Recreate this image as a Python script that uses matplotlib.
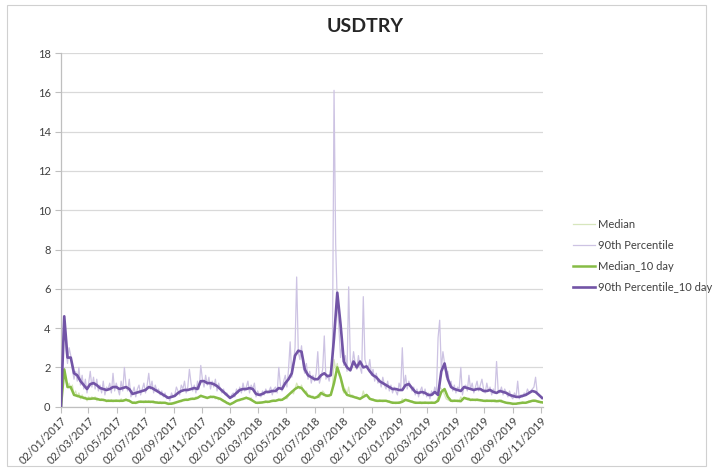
import matplotlib
matplotlib.use("Agg")
import matplotlib.pyplot as plt
import matplotlib.dates as mdates
import numpy as np
import pandas as pd
from matplotlib.patches import Rectangle

TITLE = "USDTRY"
START = "2017-01-02"
END = "2019-11-06"
SERIES_NAMES = ["Median", "90th Percentile", "Median_10 day", "90th Percentile_10 day"]

# raw series, sampled every 3.5 days from START
median_raw = [
    0.0, 1.0, 1.9, 1.3, 1.0, 1.2, 0.9, 1.1, 0.6, 0.8,
    0.5, 0.7, 0.4, 0.6, 0.4, 0.5, 0.3, 0.5, 0.4, 0.5,
    0.4, 0.5, 0.3, 0.4, 0.35, 0.4, 0.3, 0.35, 0.25, 0.35,
    0.3, 0.35, 0.25, 0.3, 0.35, 0.3, 0.25, 0.4, 0.3, 0.35,
    0.4, 0.3, 0.35, 0.25, 0.2, 0.25, 0.15, 0.2, 0.25, 0.3,
    0.25, 0.2, 0.3, 0.25, 0.3, 0.2, 0.25, 0.3, 0.2, 0.25,
    0.2, 0.25, 0.15, 0.2, 0.2, 0.15, 0.1, 0.15, 0.2, 0.15,
    0.15, 0.2, 0.25, 0.3, 0.25, 0.35, 0.3, 0.4, 0.35, 0.4,
    0.35, 0.45, 0.4, 0.5, 0.45, 0.5, 0.6, 0.55, 0.5, 0.45,
    0.4, 0.5, 0.55, 0.45, 0.5, 0.4, 0.45, 0.35, 0.4, 0.3,
    0.25, 0.3, 0.15, 0.2, 0.1, 0.15, 0.2, 0.25, 0.3, 0.35,
    0.3, 0.4, 0.35, 0.45, 0.5, 0.4, 0.35, 0.45, 0.3, 0.25,
    0.2, 0.15, 0.25, 0.2, 0.2, 0.25, 0.3, 0.2, 0.25, 0.3,
    0.25, 0.35, 0.3, 0.35, 0.4, 0.3, 0.35, 0.45, 0.5, 0.4,
    0.55, 0.7, 0.8, 0.65, 0.9, 1.2, 1.0, 0.9, 1.1, 0.8,
    0.7, 0.8, 0.5, 0.6, 0.45, 0.55, 0.4, 0.5, 0.6, 0.45,
    0.6, 0.8, 0.7, 0.5, 0.6, 0.5, 0.7, 0.9, 2.4, 1.9,
    2.2, 1.6, 1.4, 1.0, 0.7, 0.9, 0.6, 1.0, 0.5, 0.6,
    0.55, 0.45, 0.5, 0.4, 0.35, 0.45, 0.8, 0.5, 0.6, 0.55,
    0.45, 0.35, 0.4, 0.3, 0.35, 0.25, 0.35, 0.3, 0.25, 0.3,
    0.3, 0.25, 0.3, 0.2, 0.25, 0.2, 0.15, 0.2, 0.25, 0.2,
    0.4, 0.3, 0.35, 0.3, 0.35, 0.25, 0.3, 0.2, 0.25, 0.2,
    0.2, 0.25, 0.15, 0.2, 0.25, 0.2, 0.15, 0.2, 0.25, 0.2,
    0.2, 0.25, 0.5, 1.0, 0.9, 0.8, 0.6, 0.4, 0.35, 0.3,
    0.3, 0.25, 0.35, 0.3, 0.25, 0.3, 0.5, 0.35, 0.45, 0.4,
    0.35, 0.45, 0.3, 0.4, 0.35, 0.3, 0.4, 0.35, 0.3, 0.35,
    0.3, 0.25, 0.35, 0.3, 0.3, 0.25, 0.3, 0.35, 0.3, 0.25,
    0.3, 0.35, 0.25, 0.2, 0.2, 0.15, 0.2, 0.15, 0.1, 0.15,
    0.15, 0.2, 0.15, 0.2, 0.25, 0.2, 0.2, 0.25, 0.3, 0.25,
    0.3, 0.35, 0.3, 0.25, 0.3, 0.2, 0.25,
]
p90_raw = [
    0.0, 2.3, 4.6, 2.9, 2.2, 3.0, 2.6, 1.9, 1.4, 1.8,
    1.3, 2.0, 1.1, 1.6, 0.9, 1.4, 0.7, 1.2, 1.8, 1.0,
    1.5, 0.9, 1.4, 0.8, 1.1, 0.7, 1.3, 0.6, 1.0, 0.9,
    1.2, 0.7, 1.7, 0.8, 1.2, 0.9, 0.6, 1.3, 0.8, 2.0,
    1.1, 0.8, 1.4, 0.5, 0.7, 1.0, 0.5, 0.9, 1.1, 0.6,
    0.9, 1.2, 0.7, 1.1, 1.7, 0.9, 1.3, 0.7, 1.1, 0.8,
    0.9, 0.6, 0.8, 0.5, 0.7, 0.4, 0.5, 0.3, 0.7, 0.5,
    0.6, 1.0, 0.8, 0.6, 1.1, 0.9, 1.3, 0.7, 1.0, 1.9,
    1.2, 0.8, 1.1, 0.7, 1.3, 0.9, 2.1, 1.4, 1.0, 1.6,
    1.1, 1.5, 0.9, 1.3, 1.0, 1.4, 0.8, 1.2, 0.9, 0.7,
    0.9, 0.6, 0.7, 0.5, 0.4, 0.6, 0.7, 0.5, 0.9, 0.7,
    1.0, 0.7, 1.2, 0.8, 1.0, 1.3, 0.7, 1.1, 0.9, 1.2,
    0.5, 0.8, 0.6, 0.5, 0.8, 0.6, 0.9, 0.7, 0.8, 1.0,
    0.6, 0.9, 1.0, 0.7, 2.0, 1.1, 0.8, 1.3, 1.6, 1.0,
    1.9, 3.3, 1.5, 2.2, 3.0, 6.6, 2.8, 2.4, 3.1, 2.0,
    1.7, 2.2, 1.4, 1.8, 1.2, 1.6, 1.3, 1.7, 2.8, 1.2,
    1.5, 1.9, 3.6, 1.4, 1.6, 1.3, 1.9, 2.6, 16.1, 8.3,
    5.2, 4.0, 2.5, 3.2, 2.1, 2.6, 1.8, 6.1, 2.4, 2.0,
    2.8, 2.2, 1.9, 2.6, 2.0, 1.7, 5.6, 2.4, 2.1, 1.9,
    2.4, 1.6, 1.9, 1.3, 1.7, 1.2, 1.4, 1.0, 1.5, 1.1,
    0.9, 1.3, 0.8, 1.1, 0.7, 1.0, 0.8, 0.6, 1.2, 0.9,
    3.0, 1.0, 1.6, 0.9, 1.3, 1.1, 0.8, 1.0, 0.6, 0.9,
    0.5, 0.8, 1.0, 0.6, 0.9, 0.5, 0.7, 0.4, 0.8, 0.6,
    1.0, 0.7, 3.5, 4.4, 1.9, 2.8, 2.2, 1.5, 1.8, 1.2,
    1.3, 0.8, 1.1, 0.7, 1.0, 0.9, 2.0, 0.6, 1.0, 1.1,
    0.8, 1.6, 0.9, 1.2, 0.7, 1.0, 1.3, 0.8, 1.1, 1.4,
    0.9, 0.7, 1.2, 0.8, 1.0, 0.6, 0.9, 0.7, 2.3, 0.8,
    0.7, 1.0, 0.6, 0.9, 0.7, 0.5, 0.8, 0.5, 0.4, 0.7,
    0.5, 1.3, 0.4, 0.6, 0.5, 0.7, 0.6, 0.9, 0.7, 0.8,
    0.9, 1.0, 1.5, 0.7, 0.6, 0.5, 0.4,
]

# 10-day rolling series, weekly readings from START
median_10d = [
    0.0, 1.9, 1.0, 1.0, 0.6, 0.55, 0.5, 0.45, 0.4, 0.4,
    0.42, 0.4, 0.35, 0.35, 0.3, 0.3, 0.3, 0.3, 0.3, 0.3,
    0.35, 0.3, 0.2, 0.2, 0.25, 0.25, 0.25, 0.25, 0.25, 0.22,
    0.2, 0.2, 0.2, 0.15, 0.15, 0.2, 0.25, 0.3, 0.35, 0.35,
    0.4, 0.4, 0.45, 0.55, 0.5, 0.45, 0.5, 0.5, 0.45, 0.4,
    0.3, 0.2, 0.12, 0.2, 0.3, 0.35, 0.4, 0.45, 0.4, 0.3,
    0.2, 0.2, 0.22, 0.25, 0.25, 0.3, 0.3, 0.35, 0.35, 0.45,
    0.6, 0.75, 0.9, 1.0, 0.95, 0.75, 0.55, 0.5, 0.45, 0.5,
    0.7, 0.6, 0.55, 0.6, 1.2, 2.0, 1.5, 0.85, 0.6, 0.55,
    0.5, 0.45, 0.4, 0.5, 0.6, 0.4, 0.35, 0.3, 0.3, 0.3,
    0.3, 0.25, 0.2, 0.2, 0.2, 0.25, 0.35, 0.3, 0.25, 0.2,
    0.2, 0.2, 0.2, 0.2, 0.2, 0.2, 0.3, 0.75, 0.9, 0.5,
    0.3, 0.3, 0.3, 0.28, 0.45, 0.4, 0.35, 0.35, 0.35, 0.33,
    0.3, 0.3, 0.3, 0.3, 0.28, 0.3, 0.25, 0.2, 0.18, 0.15,
    0.15, 0.18, 0.2, 0.2, 0.25, 0.3, 0.3, 0.25, 0.22,
]
p90_10d = [
    0.0, 4.6, 2.5, 2.5, 1.7, 1.6, 1.3, 1.1, 0.9, 1.15,
    1.2, 1.1, 0.95, 0.9, 0.85, 0.9, 1.0, 1.0, 0.9, 0.95,
    1.0, 0.9, 0.65, 0.7, 0.75, 0.8, 0.85, 1.0, 0.95, 0.85,
    0.75, 0.65, 0.55, 0.45, 0.5, 0.55, 0.7, 0.8, 0.85, 0.85,
    0.9, 0.95, 0.9, 1.3, 1.3, 1.2, 1.2, 1.15, 1.05, 0.9,
    0.75, 0.6, 0.45, 0.55, 0.7, 0.85, 0.9, 0.9, 0.95, 0.9,
    0.65, 0.6, 0.65, 0.75, 0.75, 0.8, 0.8, 0.95, 0.9, 1.2,
    1.4, 1.7, 2.6, 2.85, 2.8, 1.9, 1.6, 1.5, 1.4, 1.4,
    1.6, 1.7, 1.55, 1.6, 3.5, 5.8, 4.2, 2.3, 2.0, 1.85,
    2.3, 2.0, 2.3, 2.0, 2.05, 1.8, 1.6, 1.5, 1.3, 1.2,
    1.1, 1.0, 0.9, 0.9, 0.85, 0.85, 1.1, 1.15, 0.95, 0.75,
    0.7, 0.75, 0.7, 0.6, 0.6, 0.75, 0.6, 1.8, 2.2, 1.4,
    1.0, 0.9, 0.85, 0.8, 1.0, 0.95, 0.9, 0.85, 0.9, 0.9,
    0.8, 0.8, 0.85, 0.75, 0.7, 0.8, 0.75, 0.7, 0.6, 0.55,
    0.5, 0.5, 0.55, 0.6, 0.7, 0.8, 0.75, 0.6, 0.45,
]

COLORS = ["#d7e6bd", "#cdc3e3", "#86bc45", "#7254a6"]
WIDTHS = [0.9, 0.9, 1.8, 1.9]
GRID = "#d9d9d9"
TEXT = "#404040"

plt.rcParams["font.family"] = ["Lato", "DejaVu Sans"]


def main() -> None:
    raw_dates = pd.date_range(START, periods=len(p90_raw), freq="84h")
    wk_dates = pd.date_range(START, periods=len(p90_10d), freq="7D")

    fig = plt.figure(figsize=(7.13, 4.69), dpi=100)
    fig.patches.append(Rectangle((7 / 713, 3 / 469), 699 / 713, 461 / 469,
                                 transform=fig.transFigure, fill=False,
                                 edgecolor="#d0d0d0", lw=0.8))
    ax = fig.add_axes([61 / 713, 1 - 406.7 / 469, 482 / 713, 353.7 / 469])

    ax.plot(raw_dates[:len(median_raw)], median_raw, color=COLORS[0],
            lw=WIDTHS[0], label=SERIES_NAMES[0], zorder=2)
    ax.plot(raw_dates, p90_raw, color=COLORS[1], lw=WIDTHS[1],
            label=SERIES_NAMES[1], zorder=2)
    ax.plot(wk_dates[:len(median_10d)], median_10d, color=COLORS[2],
            lw=WIDTHS[2], label=SERIES_NAMES[2], zorder=3)
    ax.plot(wk_dates, p90_10d, color=COLORS[3], lw=WIDTHS[3],
            label=SERIES_NAMES[3], zorder=4)

    ax.set_xlim(pd.Timestamp(START), pd.Timestamp(END))
    ax.set_ylim(0, 18)
    ax.set_yticks(np.arange(0, 19, 2))
    ax.grid(axis="y", color=GRID, lw=0.9)
    ax.set_axisbelow(True)

    ax.xaxis.set_major_locator(mdates.MonthLocator(bymonth=[1, 3, 5, 7, 9, 11], bymonthday=2))
    ax.xaxis.set_major_formatter(mdates.DateFormatter("%d/%m/%Y"))
    for lab in ax.get_xticklabels():
        lab.set_rotation(45)
        lab.set_ha("right")
        lab.set_rotation_mode("anchor")

    for side in ("top", "right"):
        ax.spines[side].set_visible(False)
    for side in ("left", "bottom"):
        ax.spines[side].set_color("#bfbfbf")
        ax.spines[side].set_linewidth(0.9)
    ax.tick_params(axis="both", colors="#bfbfbf", labelcolor=TEXT,
                   labelsize=8, length=4, width=0.8)
    ax.tick_params(axis="x", pad=2)

    fig.text(365 / 713, 1 - 27 / 469, TITLE, ha="center", va="center",
             fontsize=14, fontweight="bold", color="#262626")

    ax.legend(loc="center left", bbox_to_anchor=(1.062, 0.426), frameon=False,
              fontsize=8, handlelength=2.0, handletextpad=0.3,
              labelspacing=0.9, borderpad=0, borderaxespad=0,
              labelcolor=TEXT)

    fig.savefig("out.png", dpi=100)


if __name__ == "__main__":
    main()
